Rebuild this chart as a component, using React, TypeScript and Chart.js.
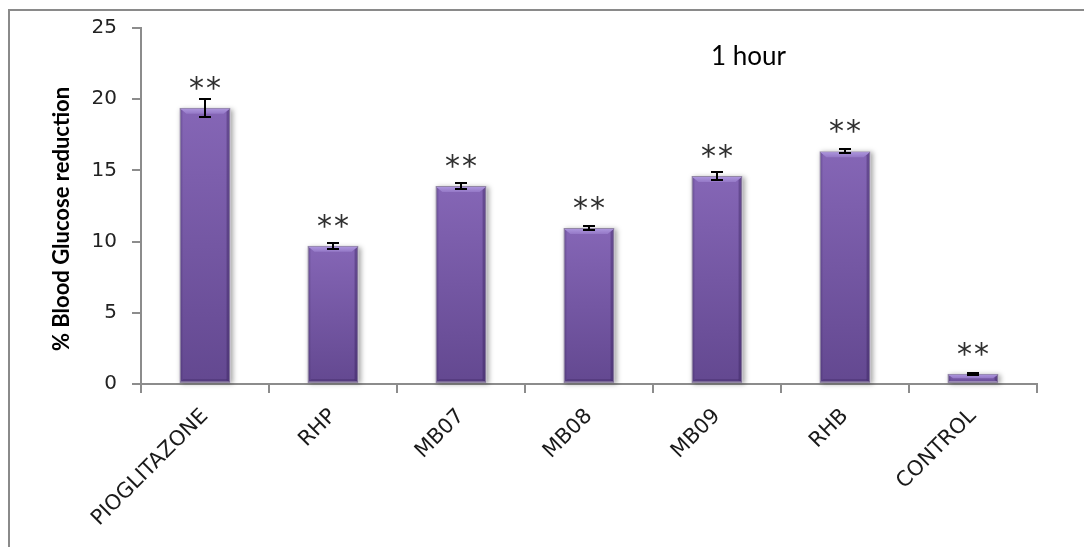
import { useEffect, useRef } from 'react';
import { Chart, registerables } from 'chart.js';

Chart.register(...registerables);

// Blood glucose reduction after 1 hour, per treatment group
const categories = ['PIOGLITAZONE', 'RHP', 'MB07', 'MB08', 'MB09', 'RHB', 'CONTROL'];
const reduction = [19.4, 9.7, 13.9, 10.95, 14.6, 16.35, 0.72];
const stdError = [0.63, 0.23, 0.24, 0.12, 0.3, 0.15, 0.08];
const significance = ['**', '**', '**', '**', '**', '**', '**'];
const yMin = 0;
const yMax = 25;
const yStep = 5;
const panelTitle = '1 hour';
const yAxisTitle = '% Blood Glucose reduction';

const AXIS_GRAY = '#8c8c8c';

type BarBox = { left: number; right: number; top: number; bottom: number; x: number };

function barBoxes(chart: Chart): BarBox[] {
  const meta = chart.getDatasetMeta(0);
  return meta.data.map((el: any) => {
    const p = el.getProps(['x', 'y', 'base', 'width'], true);
    return {
      x: p.x,
      left: p.x - p.width / 2,
      right: p.x + p.width / 2,
      top: Math.min(p.y, p.base),
      bottom: Math.max(p.y, p.base),
    };
  });
}

// Page frame and background
const framePlugin = {
  id: 'frame',
  beforeDraw(chart: Chart) {
    const { ctx, width, height } = chart;
    ctx.save();
    ctx.fillStyle = '#ffffff';
    ctx.fillRect(0, 0, width, height);
    ctx.strokeStyle = '#8a8a8a';
    ctx.lineWidth = 2;
    ctx.beginPath();
    ctx.moveTo(9, height + 2);
    ctx.lineTo(9, 10);
    ctx.lineTo(width + 2, 10);
    ctx.stroke();
    ctx.restore();
  },
};

// Soft drop shadow behind each bar
const barShadowPlugin = {
  id: 'barShadow',
  beforeDatasetsDraw(chart: Chart) {
    const { ctx } = chart;
    ctx.save();
    ctx.shadowColor = 'rgba(0,0,0,0.35)';
    ctx.shadowBlur = 5;
    ctx.shadowOffsetX = 2;
    ctx.shadowOffsetY = 1;
    ctx.fillStyle = '#ffffff';
    for (const b of barBoxes(chart)) {
      ctx.fillRect(b.left, b.top, b.right - b.left, b.bottom - b.top);
    }
    ctx.restore();
  },
};

// Bevelled highlight on top of every bar, darker edges
const bevelPlugin = {
  id: 'bevel',
  afterDatasetsDraw(chart: Chart) {
    const { ctx } = chart;
    ctx.save();
    for (const b of barBoxes(chart)) {
      const h = b.bottom - b.top;
      const bev = Math.min(6, h / 2);
      // top highlight
      const g = ctx.createLinearGradient(0, b.top, 0, b.top + bev);
      g.addColorStop(0, '#b09ae0');
      g.addColorStop(1, '#9478c6');
      ctx.fillStyle = g;
      ctx.beginPath();
      ctx.moveTo(b.left + 1, b.top + 1);
      ctx.lineTo(b.right - 1, b.top + 1);
      ctx.lineTo(b.right - 1 - bev, b.top + bev);
      ctx.lineTo(b.left + 1 + bev, b.top + bev);
      ctx.closePath();
      ctx.fill();
      // right edge shade
      ctx.fillStyle = 'rgba(45,25,80,0.35)';
      ctx.beginPath();
      ctx.moveTo(b.right - 1, b.top + 1);
      ctx.lineTo(b.right - 1, b.bottom - 1);
      ctx.lineTo(b.right - 4, b.bottom - 3);
      ctx.lineTo(b.right - 4, b.top + 4);
      ctx.closePath();
      ctx.fill();
      // left edge shade
      ctx.fillStyle = 'rgba(45,25,80,0.18)';
      ctx.beginPath();
      ctx.moveTo(b.left + 1, b.top + 1);
      ctx.lineTo(b.left + 1, b.bottom - 1);
      ctx.lineTo(b.left + 3, b.bottom - 3);
      ctx.lineTo(b.left + 3, b.top + 3);
      ctx.closePath();
      ctx.fill();
      // bottom shade
      if (h > 10) {
        ctx.fillStyle = 'rgba(45,25,80,0.25)';
        ctx.beginPath();
        ctx.moveTo(b.left + 1, b.bottom - 1);
        ctx.lineTo(b.right - 1, b.bottom - 1);
        ctx.lineTo(b.right - 4, b.bottom - 4);
        ctx.lineTo(b.left + 4, b.bottom - 4);
        ctx.closePath();
        ctx.fill();
      }
    }
    ctx.restore();
  },
};

// Error bars with caps
const errorBarPlugin = {
  id: 'errorBars',
  afterDatasetsDraw(chart: Chart) {
    const { ctx } = chart;
    const y = chart.scales.y;
    const boxes = barBoxes(chart);
    ctx.save();
    ctx.strokeStyle = '#000000';
    ctx.lineWidth = 2;
    boxes.forEach((b, i) => {
      const hi = Math.round(y.getPixelForValue(reduction[i] + stdError[i]));
      const lo = Math.round(y.getPixelForValue(reduction[i] - stdError[i]));
      const cx = Math.round(b.x);
      ctx.beginPath();
      ctx.moveTo(cx, hi);
      ctx.lineTo(cx, lo);
      ctx.moveTo(cx - 6, hi);
      ctx.lineTo(cx + 6, hi);
      ctx.moveTo(cx - 6, lo);
      ctx.lineTo(cx + 6, lo);
      ctx.stroke();
    });
    ctx.restore();
  },
};

// Significance marks, panel caption and y-axis caption
const textPlugin = {
  id: 'texts',
  afterDraw(chart: Chart) {
    const { ctx } = chart;
    const boxes = barBoxes(chart);
    ctx.save();
    ctx.fillStyle = '#303030';
    ctx.font = '30px "DejaVu Sans"';
    ctx.textAlign = 'center';
    ctx.textBaseline = 'alphabetic';
    boxes.forEach((b, i) => {
      const mark = significance[i];
      const cy = b.top - 26;
      const chars = mark.split('');
      const gap = 17;
      chars.forEach((c, k) => {
        const dx = (k - (chars.length - 1) / 2) * gap;
        ctx.fillText(c, b.x + dx, cy + 16);
      });
    });

    ctx.fillStyle = '#000000';
    ctx.font = '26px Lato';
    ctx.textAlign = 'left';
    ctx.fillText(panelTitle, 711, 65);

    ctx.save();
    ctx.translate(62, 219);
    ctx.rotate(-Math.PI / 2);
    ctx.font = 'bold 22px Lato';
    ctx.textAlign = 'center';
    ctx.textBaseline = 'middle';
    ctx.fillText(yAxisTitle, 0, 0);
    ctx.restore();
    ctx.restore();
  },
};

function barFill(context: any) {
  const chart = context.chart as Chart;
  const area = chart.chartArea;
  if (!area || !chart.scales.y) return '#7a5aa8';
  const yScale = chart.scales.y;
  const v = reduction[context.dataIndex] ?? 0;
  const top = yScale.getPixelForValue(v);
  const base = yScale.getPixelForValue(0);
  const g = chart.ctx.createLinearGradient(0, top, 0, base);
  g.addColorStop(0, '#8566b6');
  g.addColorStop(1, '#634890');
  return g;
}

export default function App() {
  const canvasRef = useRef<HTMLCanvasElement | null>(null);

  useEffect(() => {
    document.body.style.margin = '0';
    const canvas = canvasRef.current;
    if (!canvas) return;
    const chart = new Chart(canvas, {
      type: 'bar',
      data: {
        labels: categories,
        datasets: [
          {
            data: reduction,
            backgroundColor: barFill,
            borderColor: 'rgba(140,128,160,0.95)',
            borderWidth: 1.5,
            borderSkipped: false,
            categoryPercentage: 1,
            barPercentage: 0.4,
          },
        ],
      },
      options: {
        responsive: false,
        animation: false,
        events: [],
        layout: { padding: { left: 0, top: 28, right: 47, bottom: 0 } },
        plugins: {
          legend: { display: false },
          tooltip: { enabled: false },
          title: { display: false },
        },
        scales: {
          x: {
            type: 'category',
            afterFit(scale: any) {
              scale.height = 547 - 384;
            },
            grid: {
              display: true,
              offset: true,
              drawOnChartArea: false,
              drawTicks: true,
              tickLength: 9,
              color: AXIS_GRAY,
              lineWidth: 2,
            },
            border: { display: true, color: AXIS_GRAY, width: 2 },
            ticks: {
              maxRotation: 45,
              minRotation: 45,
              autoSkip: false,
              padding: 11,
              color: '#1a1a1a',
              font: { family: '"DejaVu Sans"', size: 21 },
            },
          },
          y: {
            min: yMin,
            max: yMax,
            afterFit(scale: any) {
              scale.width = 141;
            },
            grid: {
              display: true,
              drawOnChartArea: false,
              drawTicks: true,
              tickLength: 9,
              color: AXIS_GRAY,
              lineWidth: 2,
            },
            border: { display: true, color: AXIS_GRAY, width: 2 },
            ticks: {
              stepSize: yStep,
              padding: 15,
              color: '#222222',
              font: { family: '"DejaVu Sans"', size: 20 },
            },
          },
        },
      },
      plugins: [framePlugin, barShadowPlugin, bevelPlugin, errorBarPlugin, textPlugin],
    });
    return () => chart.destroy();
  }, []);

  return (
    <div style={{ position: 'fixed', left: 0, top: 0, width: 1084, height: 547 }}>
      <canvas ref={canvasRef} width={1084} height={547} style={{ display: 'block' }} />
    </div>
  );
}
